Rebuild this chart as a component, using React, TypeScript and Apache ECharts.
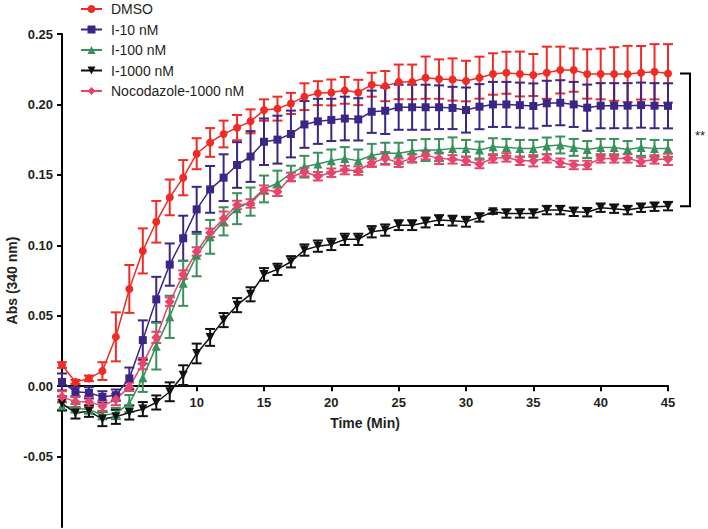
import React, { useEffect, useRef } from "react";
import * as echarts from "echarts";

const TIME = Array.from({ length: 46 }, (_, i) => i);

const SERIES_NAMES = ["DMSO", "I-10 nM", "I-100 nM", "I-1000 nM", "Nocodazole-1000 nM"];

const DMSO = [
  0.015, 0.003, 0.0055, 0.0107, 0.035, 0.069, 0.096, 0.1167, 0.134, 0.148,
  0.165, 0.173, 0.179, 0.1835, 0.188, 0.196, 0.197, 0.2007, 0.2055, 0.208,
  0.2085, 0.21, 0.2085, 0.214, 0.213, 0.216, 0.216, 0.219, 0.218, 0.2177,
  0.2166, 0.219, 0.2216, 0.2225, 0.2216, 0.2209, 0.2225, 0.2244, 0.2244, 0.2216,
  0.2216, 0.2216, 0.2216, 0.2225, 0.2232, 0.222,
];
const DMSO_ERR = [
  0.002, 0.0015, 0.002, 0.0063, 0.0174, 0.017, 0.016, 0.0148, 0.0127, 0.0125,
  0.011, 0.0102, 0.0095, 0.009, 0.0085, 0.0076, 0.0085, 0.0075, 0.0095, 0.0085,
  0.0092, 0.0095, 0.009, 0.0085, 0.0107, 0.0123, 0.0123, 0.015, 0.014, 0.015,
  0.0144, 0.0149, 0.0147, 0.0149, 0.0159, 0.0149, 0.0185, 0.0166, 0.0154, 0.0175,
  0.018, 0.019, 0.02, 0.019, 0.0196, 0.0208,
];

const I10 = [
  0.003, -0.004, -0.0047, -0.0076, -0.0064, 0.0055, 0.0327, 0.0616, 0.0863, 0.105,
  0.1255, 0.1397, 0.148, 0.157, 0.163, 0.1735, 0.175, 0.179, 0.1858, 0.188,
  0.189, 0.19, 0.1894, 0.1948, 0.1955, 0.198, 0.198, 0.198, 0.198, 0.1975,
  0.196, 0.1984, 0.2, 0.2, 0.1995, 0.1989, 0.2008, 0.2012, 0.2, 0.1977,
  0.1991, 0.1991, 0.1991, 0.1995, 0.1991, 0.199,
];
const I10_ERR = [
  0.006, 0.0035, 0.004, 0.004, 0.004, 0.0077, 0.014, 0.016, 0.015, 0.016,
  0.016, 0.0166, 0.0166, 0.0162, 0.018, 0.0165, 0.017, 0.0166, 0.0166, 0.016,
  0.015, 0.0155, 0.015, 0.015, 0.0165, 0.016, 0.016, 0.016, 0.0155, 0.015,
  0.016, 0.016, 0.016, 0.016, 0.016, 0.016, 0.016, 0.016, 0.016, 0.0164,
  0.016, 0.016, 0.016, 0.016, 0.016, 0.016,
];

const I100 = [
  -0.014, -0.0157, -0.0166, -0.0206, -0.0194, -0.0123, 0.0059, 0.0284, 0.0492, 0.073,
  0.093, 0.106, 0.117, 0.126, 0.131, 0.14, 0.144, 0.151, 0.1558, 0.1577,
  0.16, 0.1617, 0.16, 0.164, 0.1653, 0.1653, 0.1669, 0.1676, 0.1676, 0.1688,
  0.1688, 0.1676, 0.17, 0.1695, 0.1688, 0.1688, 0.1705, 0.1712, 0.1695, 0.168,
  0.1695, 0.1695, 0.168, 0.1695, 0.1688, 0.1688,
];
const I100_ERR = [
  0.003, 0.003, 0.003, 0.003, 0.004, 0.006, 0.01, 0.0166, 0.015, 0.016,
  0.015, 0.012, 0.01, 0.011, 0.01, 0.0095, 0.009, 0.0055, 0.0077, 0.008,
  0.008, 0.008, 0.008, 0.008, 0.0075, 0.0075, 0.0078, 0.0078, 0.0078, 0.0078,
  0.006, 0.006, 0.006, 0.006, 0.006, 0.006, 0.006, 0.006, 0.006, 0.006,
  0.006, 0.006, 0.006, 0.006, 0.006, 0.006,
];

const I1000 = [
  -0.0123, -0.019, -0.0178, -0.0234, -0.0218, -0.0187, -0.0163, -0.0116, -0.004, 0.0078,
  0.0232, 0.0346, 0.0469, 0.0575, 0.0652, 0.0793, 0.0829, 0.0883, 0.0966, 0.0994,
  0.1006, 0.1042, 0.1042, 0.1096, 0.1108, 0.1143, 0.1143, 0.1162, 0.1179, 0.1175,
  0.1167, 0.1198, 0.1238, 0.1226, 0.1226, 0.1226, 0.125, 0.125, 0.1238, 0.1235,
  0.1267, 0.126, 0.125, 0.1267, 0.1274, 0.1278,
];
const I1000_ERR = [
  0.005, 0.004, 0.004, 0.005, 0.005, 0.005, 0.005, 0.005, 0.0067, 0.007,
  0.007, 0.006, 0.005, 0.005, 0.005, 0.0045, 0.004, 0.004, 0.004, 0.004,
  0.004, 0.004, 0.004, 0.004, 0.004, 0.0035, 0.0035, 0.0035, 0.0035, 0.0035,
  0.0035, 0.003, 0.0015, 0.003, 0.003, 0.003, 0.003, 0.003, 0.003, 0.003,
  0.003, 0.003, 0.003, 0.003, 0.003, 0.003,
];

const NOCO = [
  -0.0076, -0.011, -0.011, -0.0142, -0.0095, -0.0005, 0.016, 0.0346, 0.06, 0.0792,
  0.0956, 0.1089, 0.119, 0.1286, 0.1297, 0.1395, 0.138, 0.1485, 0.152, 0.149,
  0.1515, 0.1534, 0.153, 0.1586, 0.1617, 0.1586, 0.1617, 0.164, 0.1617, 0.161,
  0.16, 0.1577, 0.1617, 0.1624, 0.16, 0.16, 0.1617, 0.1586, 0.157, 0.157,
  0.1617, 0.1617, 0.1617, 0.1593, 0.161, 0.161,
];
const NOCO_ERR = [
  0.004, 0.004, 0.004, 0.004, 0.004, 0.003, 0.004, 0.004, 0.003, 0.003,
  0.003, 0.003, 0.005, 0.003, 0.003, 0.003, 0.003, 0.003, 0.003, 0.003,
  0.003, 0.003, 0.003, 0.003, 0.0045, 0.003, 0.003, 0.003, 0.004, 0.003,
  0.003, 0.003, 0.003, 0.003, 0.003, 0.004, 0.003, 0.003, 0.003, 0.003,
  0.003, 0.003, 0.003, 0.003, 0.003, 0.004,
];

const X_LABELS = [10, 15, 20, 25, 30, 35, 40, 45];
const X_TICKS = [5, 10, 15, 20, 25, 30, 35, 40, 45];
const Y_TICKS = [-0.05, 0, 0.05, 0.1, 0.15, 0.2, 0.25];

const COLORS = ["#ee2b25", "#3b2585", "#36915a", "#111111", "#e6456c"];
const SYMBOLS = [
  "circle",
  "rect",
  "triangle",
  "path://M0,0 L10,0 L5,9 Z",
  "diamond",
];
const SYMBOL_SIZES = [8, 8, 9, 9, 10];

const FONT = "Arial, 'Liberation Sans', Helvetica, sans-serif";

function errorSeries(name: string, color: string, vals: number[], errs: number[]) {
  return {
    type: "custom",
    name: name + " err",
    silent: true,
    data: vals.map((v, i) => [TIME[i], v, errs[i]]),
    encode: { x: 0, y: 1 },
    renderItem: (_params: any, api: any) => {
      const x = api.value(0);
      const y = api.value(1);
      const e = api.value(2);
      const top = api.coord([x, y + e]);
      const bot = api.coord([x, y - e]);
      const hw = 5;
      const style = { stroke: color, lineWidth: 2 };
      return {
        type: "group",
        children: [
          { type: "line", shape: { x1: top[0], y1: top[1], x2: bot[0], y2: bot[1] }, style },
          { type: "line", shape: { x1: top[0] - hw, y1: top[1], x2: top[0] + hw, y2: top[1] }, style },
          { type: "line", shape: { x1: bot[0] - hw, y1: bot[1], x2: bot[0] + hw, y2: bot[1] }, style },
        ],
      };
    },
  };
}

function lineSeries(idx: number, vals: number[]) {
  return {
    type: "line",
    name: SERIES_NAMES[idx],
    data: vals.map((v, i) => [TIME[i], v]),
    symbol: SYMBOLS[idx],
    symbolSize: SYMBOL_SIZES[idx],
    showSymbol: true,
    itemStyle: { color: COLORS[idx] },
    lineStyle: { color: COLORS[idx], width: 1.5 },
    emphasis: { disabled: true },
  };
}

export default function App() {
  const ref = useRef<HTMLDivElement>(null);
  useEffect(() => {
    if (!ref.current) return;
    const chart = echarts.init(ref.current, undefined, { renderer: "svg" });
    const all = [DMSO, I10, I100, I1000, NOCO];
    const errs = [DMSO_ERR, I10_ERR, I100_ERR, I1000_ERR, NOCO_ERR];
    const series: any[] = [];
    all.forEach((vals, i) => {
      series.push(errorSeries(SERIES_NAMES[i], COLORS[i], vals, errs[i]));
      series.push(lineSeries(i, vals));
    });
    chart.setOption({
      animation: false,
      textStyle: { fontFamily: FONT },
      grid: { left: 62, right: 40, top: 34, bottom: 2, containLabel: false, outerBoundsMode: "none" },
      legend: {
        data: SERIES_NAMES,
        orient: "vertical",
        left: 80,
        top: 1,
        padding: 0,
        itemWidth: 21,
        itemHeight: 10,
        itemGap: 4.5,
        textStyle: { fontSize: 14, color: "#231f20", fontFamily: FONT, lineHeight: 16, padding: [0, 0, 0, 4] },
      },
      xAxis: {
        type: "value",
        position: "bottom",
        min: 0,
        max: 45,
        interval: 5,
        name: "Time (Min)",
        nameLocation: "middle",
        nameGap: 30,
        nameMoveOverlap: false,
        nameTextStyle: { fontWeight: "bold", fontSize: 14, color: "#231f20" },
        axisLine: { onZero: false, lineStyle: { color: "#000", width: 2 } },
        axisTick: { length: 5, lineStyle: { color: "#000", width: 2 }, customValues: X_TICKS },
        axisLabel: {
          fontWeight: "bold",
          fontSize: 13,
          color: "#231f20",
          margin: 10,
          customValues: X_LABELS,
        },
        splitLine: { show: false },
      },
      yAxis: {
        type: "value",
        min: -0.1,
        max: 0.25,
        interval: 0.05,
        name: "Abs (340 nm)",
        nameLocation: "middle",
        nameGap: 43,
        nameRotate: 90,
        nameMoveOverlap: false,
        nameTextStyle: { fontWeight: "bold", fontSize: 14, color: "#231f20" },
        axisLine: { show: true, onZero: false, lineStyle: { color: "#000", width: 2 } },
        axisTick: { show: true, length: 5, lineStyle: { color: "#000", width: 2 }, customValues: Y_TICKS },
        axisLabel: {
          fontWeight: "bold",
          fontSize: 13,
          color: "#231f20",
          margin: 9,
          customValues: Y_TICKS,
          formatter: (v: number) => v.toFixed(2),
        },
        splitLine: { show: false },
      },
      series,
    });
    // place the x axis on y = 0, as in the reference
    const zeroY = chart.convertToPixel({ yAxisIndex: 0 }, 0) as number;
    const bottomY = chart.convertToPixel({ yAxisIndex: 0 }, -0.1) as number;
    const pTop = chart.convertToPixel({ gridIndex: 0 }, [45, DMSO[45]]) as number[];
    const pBot = chart.convertToPixel({ gridIndex: 0 }, [45, I1000[45]]) as number[];
    const bx = pTop[0] + 22;
    chart.setOption({
      xAxis: { offset: -(bottomY - zeroY) },
      graphic: [
        {
          type: "polyline",
          shape: {
            points: [
              [bx - 10, pTop[1]],
              [bx, pTop[1]],
              [bx, pBot[1]],
              [bx - 10, pBot[1]],
            ],
          },
          style: { stroke: "#000", lineWidth: 2, fill: null },
        },
        {
          type: "text",
          x: bx + 5,
          y: (pTop[1] + pBot[1]) / 2 - 4,
          style: { text: "**", fontSize: 13, fill: "#231f20", fontFamily: FONT, verticalAlign: "middle" },
        },
      ],
    });
    return () => chart.dispose();
  }, []);
  return <div ref={ref} style={{ width: 708, height: 529, position: "absolute", left: 0, top: 0 }} />;
}
